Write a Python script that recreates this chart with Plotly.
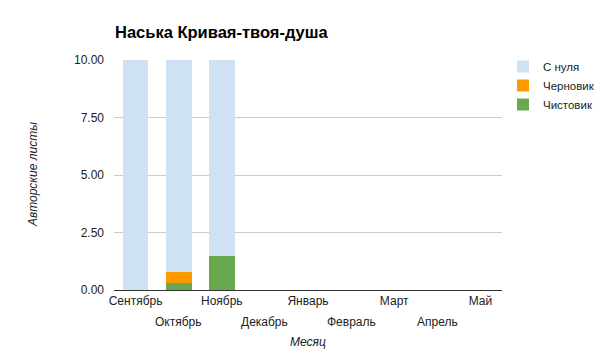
import plotly.graph_objects as go

months = ["Сентябрь", "Октябрь", "Ноябрь", "Декабрь", "Январь", "Февраль", "Март", "Апрель", "Май"]
clean = [0, 0.3, 1.5, 0, 0, 0, 0, 0, 0]        # Чистовик
draft = [0, 0.5, 0, 0, 0, 0, 0, 0, 0]          # Черновик
scratch = [10, 9.2, 8.5, 0, 0, 0, 0, 0, 0]     # С нуля
y_ticks = [0, 2.5, 5, 7.5, 10]

# even-indexed months on first row (tick labels), odd-indexed on second row (annotations)
tick_text = [m if i % 2 == 0 else "" for i, m in enumerate(months)]

fig = go.Figure()
fig.add_trace(go.Bar(x=months, y=clean, name="Чистовик", marker_color="#6aa84f", marker_line_width=0))
fig.add_trace(go.Bar(x=months, y=draft, name="Черновик", marker_color="#ff9900", marker_line_width=0))
fig.add_trace(go.Bar(x=months, y=scratch, name="С нуля", marker_color="#cfe2f3", marker_line_width=0))

font_family = "Liberation Sans, Arial, sans-serif"
label_color = "#222222"

annotations = []
for i, m in enumerate(months):
    if i % 2 == 1:
        annotations.append(dict(text=m, x=m, xref="x", y=0, yref="paper", yanchor="middle",
                                yshift=-32, showarrow=False, font=dict(size=12, color=label_color)))
annotations.append(dict(text="<i>Месяц</i>", x=0.5, xref="paper", y=0, yref="paper",
                        yanchor="middle", yshift=-52, showarrow=False,
                        font=dict(size=12, color=label_color)))
annotations.append(dict(text="<i>Авторские листы</i>", x=0, xref="paper", y=0.5, yref="paper",
                        xanchor="center", yanchor="middle", xshift=-81, textangle=-90,
                        showarrow=False, font=dict(size=12, color=label_color)))

fig.update_layout(
    width=605, height=358,
    barmode="stack", bargap=0.4,
    paper_bgcolor="white", plot_bgcolor="white",
    margin=dict(l=106, r=111, t=52, b=76),
    font=dict(family=font_family, size=12, color=label_color),
    title=dict(text="<b>Наська Кривая-твоя-душа</b>", x=107/605, xanchor="left",
               y=1 - 24/358, yanchor="middle", font=dict(size=16.5, color="#000000")),
    legend=dict(x=495/605, xref="container", y=1 - 44/358, yref="container",
                xanchor="left", yanchor="top",
                traceorder="reversed", font=dict(size=11.5, color=label_color), itemwidth=30),
    showlegend=True,
    annotations=annotations,
)
fig.update_xaxes(
    tickvals=months, ticktext=tick_text, tickangle=0, automargin=False,
    showgrid=False, showline=True, linecolor="#333333", linewidth=1,
    ticks="", tickfont=dict(size=12, color=label_color),
)
fig.update_yaxes(
    range=[0, 10], tickvals=y_ticks, tickformat=".2f", automargin=False,
    showgrid=True, gridcolor="#cccccc", zeroline=False,
    ticks="", ticklabelstandoff=9, tickfont=dict(size=12, color=label_color),
)

fig.write_html("out.html")
